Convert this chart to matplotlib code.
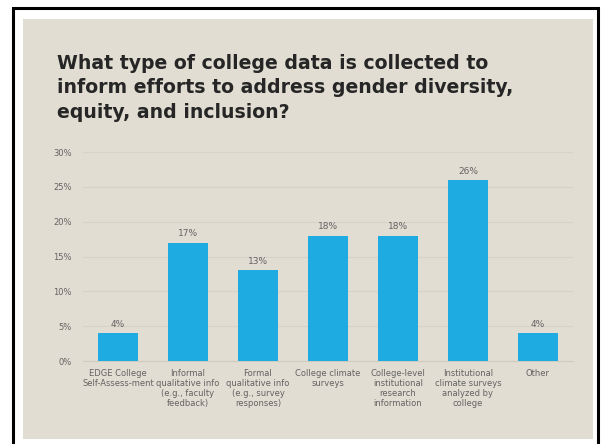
import matplotlib.pyplot as plt
from matplotlib.patches import Rectangle

# Survey results
categories = [
    "EDGE College\nSelf-Assess-ment",
    "Informal\nqualitative info\n(e.g., faculty\nfeedback)",
    "Formal\nqualitative info\n(e.g., survey\nresponses)",
    "College climate\nsurveys",
    "College-level\ninstitutional\nresearch\ninformation",
    "Institutional\nclimate surveys\nanalyzed by\ncollege",
    "Other",
]
percentages = [4, 17, 13, 18, 18, 26, 4]
y_ticks = [0, 5, 10, 15, 20, 25, 30]

bg = "#e2ddd2"
bar_color = "#1eabe2"
text_gray = "#636363"

fig = plt.figure(figsize=(6.02, 4.44), dpi=100)
fig.patch.set_facecolor("white")

# slide frame and background
fig.patches.append(Rectangle((13 / 602, -0.1), 585 / 602, 1.1 - 8 / 444,
                             transform=fig.transFigure, fill=False,
                             edgecolor="black", linewidth=2.2, zorder=-10))
fig.patches.append(Rectangle((23 / 602, 5 / 444), 570 / 602, 420 / 444,
                             transform=fig.transFigure, facecolor=bg,
                             edgecolor="none", zorder=-10))

fig.text(57 / 602, 1 - 54 / 444,
         "What type of college data is collected to\n"
         "inform efforts to address gender diversity,\n"
         "equity, and inclusion?",
         ha="left", va="top", fontsize=13.6, fontweight="bold",
         color="#262626", linespacing=1.36)

ax = fig.add_axes([83 / 602, 1 - 361 / 444, 490 / 602, 209 / 444])
ax.set_facecolor("none")

x = range(len(categories))
bars = ax.bar(x, percentages, width=0.57, color=bar_color, zorder=3)
for xi, v in zip(x, percentages):
    ax.text(xi, v + 0.6, f"{v}%", ha="center", va="bottom",
            fontsize=6.5, color=text_gray)

ax.set_xlim(-0.5, len(categories) - 0.5)
ax.set_ylim(0, 30)
ax.set_yticks(y_ticks)
ax.set_yticklabels([f"{t}%" for t in y_ticks])
ax.set_xticks(list(x))
ax.set_xticklabels(categories, linespacing=1.15)
ax.tick_params(axis="both", length=0, labelsize=6.0, colors=text_gray)
ax.tick_params(axis="y", pad=8)
ax.tick_params(axis="x", pad=6)
ax.grid(axis="y", color="#d7d2c8", linewidth=0.8, zorder=0)
for side in ["top", "right", "left"]:
    ax.spines[side].set_visible(False)
ax.spines["bottom"].set_color("#d0cbc1")

fig.savefig("out.png", dpi=100, facecolor=fig.get_facecolor())
